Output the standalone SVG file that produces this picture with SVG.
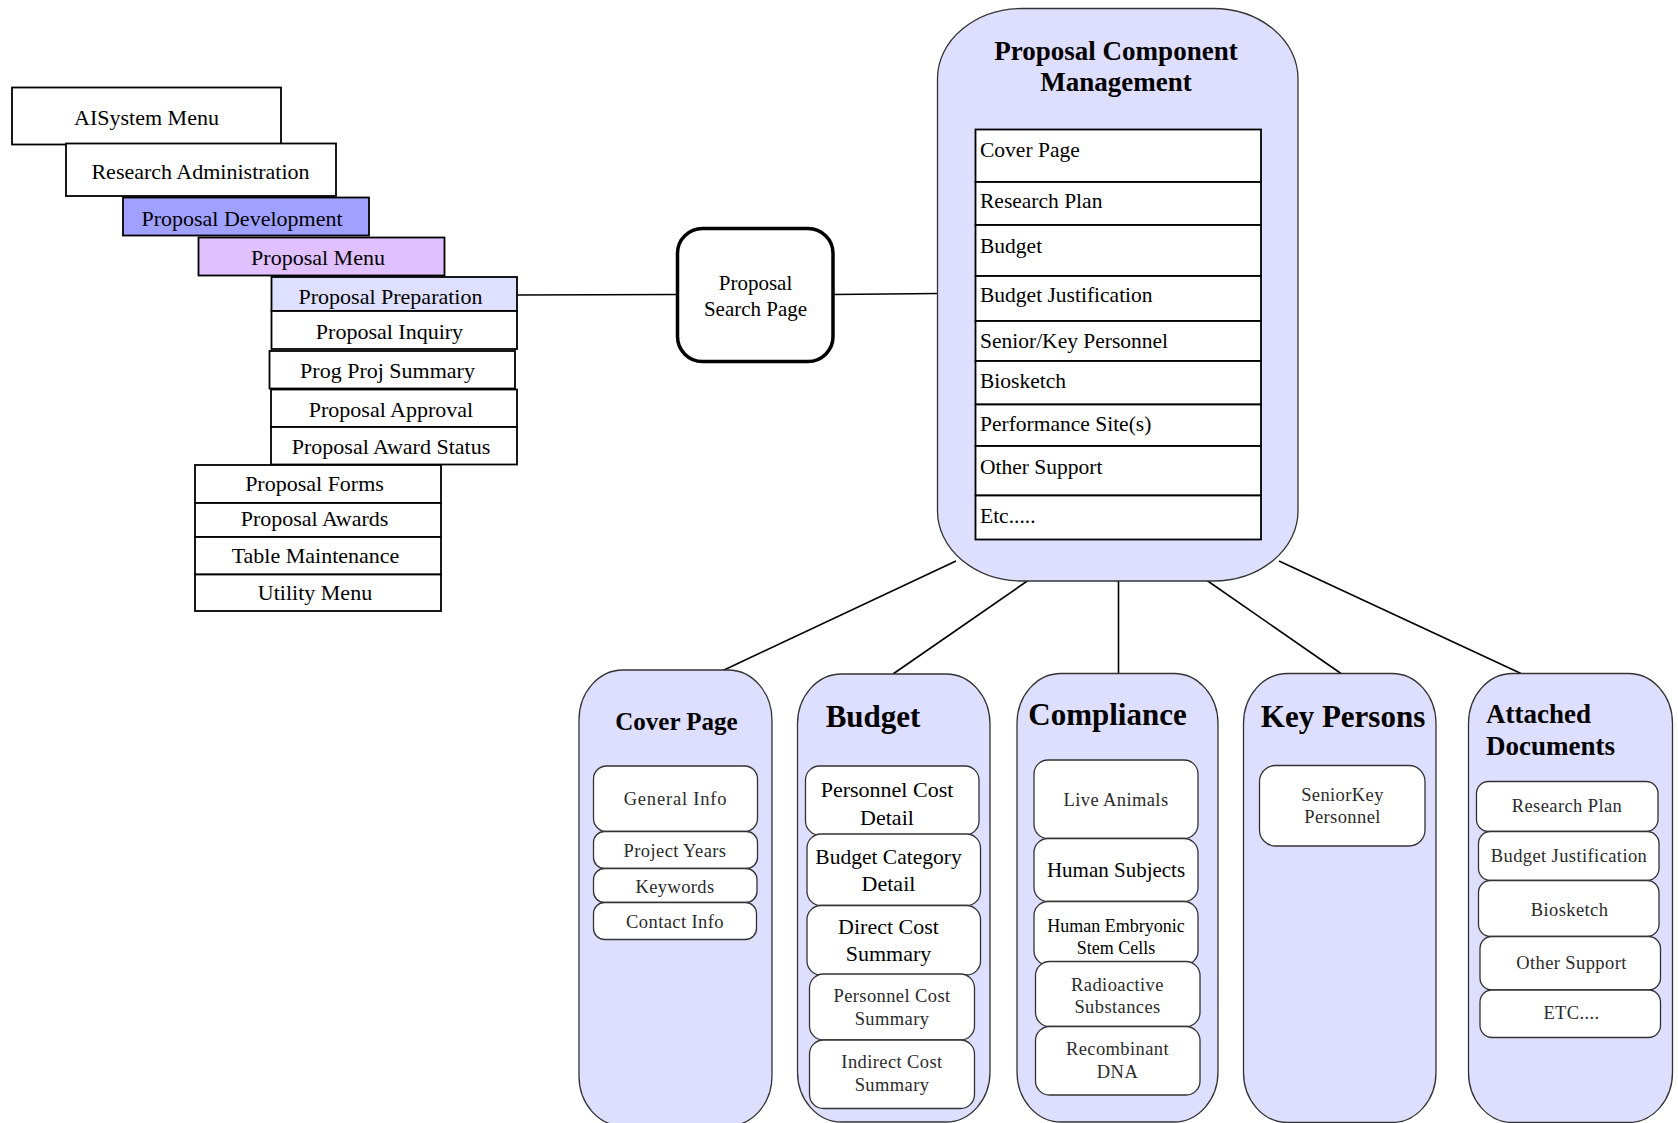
<svg xmlns="http://www.w3.org/2000/svg" width="1678" height="1123" viewBox="0 0 1678 1123">
  <style>
    .bg { fill: #ffffff; }
    .menu { fill: #ffffff; stroke: #000000; stroke-width: 1.8; }
    .dev { fill: #a0a0ff; }
    .pmenu { fill: #e0c0ff; }
    .prep { fill: #dfe0ff; }
    .t { font-family: "Liberation Serif", "Times New Roman", serif; font-size: 21px; fill: #000000; }
    .c { text-anchor: middle; }
    .b { font-weight: bold; }
    .f18 { font-size: 18px; }
    .f215 { font-size: 21.5px; }
    .f22 { font-size: 22px; }
    .f25 { font-size: 25px; }
    .f27 { font-size: 27px; }
    .f31 { font-size: 31px; }
    .g { font-family: "Liberation Serif", "Times New Roman", serif; font-size: 18.5px; fill: #2a2a2a; letter-spacing: 0.4px; text-anchor: middle; }
    .panel { fill: #dedeff; stroke: #333333; stroke-width: 1.3; }
    .item { fill: #ffffff; stroke: #333333; stroke-width: 1.3; }
    .cell { fill: #ffffff; stroke: #000000; stroke-width: 1.8; }
    .search { fill: #ffffff; stroke: #000000; stroke-width: 3.5; }
    .link { stroke: #000000; stroke-width: 1.6; fill: none; }
  </style>

  <rect class="bg" x="0" y="0" width="1678" height="1123"/>

  <!-- connectors -->
  <g id="connectors">
    <line class="link" x1="517" y1="295" x2="677" y2="294.5"/>
    <line class="link" x1="833" y1="294.5" x2="938" y2="293.5"/>
    <line class="link" x1="956" y1="561" x2="723" y2="670.5"/>
    <line class="link" x1="1028" y1="580.5" x2="893" y2="674"/>
    <line class="link" x1="1118.5" y1="580.5" x2="1118.5" y2="673.5"/>
    <line class="link" x1="1207" y1="580.5" x2="1341" y2="673.5"/>
    <line class="link" x1="1279" y1="561" x2="1521" y2="673.5"/>
  </g>

  <!-- navigation menu cascade -->
  <g id="menu-aisystem">
    <rect class="menu" x="12" y="87.5" width="269" height="57"/>
    <text class="t c f22" x="146.5" y="125">AISystem Menu</text>
  </g>
  <g id="menu-research-admin">
    <rect class="menu" x="66" y="143.5" width="270" height="52.5"/>
    <text class="t c f22" x="200.5" y="178.5">Research Administration</text>
  </g>
  <g id="menu-proposal-development">
    <rect class="menu dev" x="123" y="197.5" width="246" height="38"/>
    <text class="t c f22" x="242" y="226">Proposal Development</text>
  </g>
  <g id="menu-proposal-menu">
    <rect class="menu pmenu" x="198.5" y="237.5" width="246" height="38"/>
    <text class="t c f22" x="318" y="265">Proposal Menu</text>
  </g>
  <g id="menu-proposal-preparation">
    <rect class="menu prep" x="271.5" y="277" width="245.5" height="34"/>
    <text class="t c f22" x="390.5" y="304">Proposal Preparation</text>
  </g>
  <g id="menu-proposal-inquiry">
    <rect class="menu" x="271.5" y="311" width="245.5" height="38"/>
    <text class="t c f22" x="389.5" y="338.5">Proposal Inquiry</text>
  </g>
  <g id="menu-prog-proj-summary">
    <rect class="menu" x="269.5" y="351" width="245.5" height="37.5"/>
    <text class="t c f22" x="387.5" y="378">Prog Proj Summary</text>
  </g>
  <g id="menu-proposal-approval">
    <rect class="menu" x="271" y="389.5" width="246" height="37.5"/>
    <text class="t c f22" x="391" y="416.5">Proposal Approval</text>
  </g>
  <g id="menu-proposal-award-status">
    <rect class="menu" x="271" y="427" width="246" height="37.5"/>
    <text class="t c f22" x="391" y="454">Proposal Award Status</text>
  </g>
  <g id="menu-proposal-forms">
    <rect class="menu" x="195" y="465" width="246" height="38"/>
    <text class="t c f22" x="314.5" y="491">Proposal Forms</text>
  </g>
  <g id="menu-proposal-awards">
    <rect class="menu" x="195" y="503" width="246" height="34"/>
    <text class="t c f22" x="314.5" y="525.5">Proposal Awards</text>
  </g>
  <g id="menu-table-maintenance">
    <rect class="menu" x="195" y="537" width="246" height="37.5"/>
    <text class="t c f22" x="315.5" y="563">Table Maintenance</text>
  </g>
  <g id="menu-utility">
    <rect class="menu" x="195" y="574.5" width="246" height="36.5"/>
    <text class="t c f22" x="315" y="600">Utility Menu</text>
  </g>

  <!-- search page -->
  <g id="proposal-search-page">
    <rect class="search" x="677.5" y="228.5" width="155.5" height="133" rx="25" ry="25"/>
    <text class="t c" x="755.5" y="289.5">Proposal</text>
    <text class="t c" x="755.5" y="315.5">Search Page</text>
  </g>

  <!-- component management hub -->
  <g id="proposal-component-management">
    <rect class="panel" x="937.5" y="8.5" width="360.5" height="572.5" rx="85" ry="70"/>
    <text class="t c b f27" x="1116" y="60">Proposal Component</text>
    <text class="t c b f27" x="1116" y="91">Management</text>
    <rect class="cell" x="975.5" y="129.5" width="285.5" height="52.5"/>
    <rect class="cell" x="975.5" y="182" width="285.5" height="43"/>
    <rect class="cell" x="975.5" y="225" width="285.5" height="51"/>
    <rect class="cell" x="975.5" y="276" width="285.5" height="45"/>
    <rect class="cell" x="975.5" y="321" width="285.5" height="40"/>
    <rect class="cell" x="975.5" y="361" width="285.5" height="43.5"/>
    <rect class="cell" x="975.5" y="404.5" width="285.5" height="41.5"/>
    <rect class="cell" x="975.5" y="446" width="285.5" height="49.5"/>
    <rect class="cell" x="975.5" y="495.5" width="285.5" height="44"/>
    <text class="t f215" x="980" y="156.5">Cover Page</text>
    <text class="t f215" x="980" y="208">Research Plan</text>
    <text class="t f215" x="980" y="253">Budget</text>
    <text class="t f215" x="980" y="301.5">Budget Justification</text>
    <text class="t f215" x="980" y="348">Senior/Key Personnel</text>
    <text class="t f215" x="980" y="388">Biosketch</text>
    <text class="t f215" x="980" y="430.5">Performance Site(s)</text>
    <text class="t f215" x="980" y="474">Other Support</text>
    <text class="t f215" x="980" y="523">Etc.....</text>
  </g>

  <!-- cover page panel -->
  <g id="panel-cover-page">
    <rect class="panel" x="579" y="670" width="193" height="456" rx="44" ry="50"/>
    <text class="t c b f25" x="676.5" y="730">Cover Page</text>
    <rect class="item" x="593.5" y="766" width="164" height="65.5" rx="13" ry="13"/>
    <text class="g" x="675.5" y="805" style="letter-spacing:0.8px">General Info</text>
    <rect class="item" x="593.5" y="831.5" width="164" height="37" rx="11" ry="11"/>
    <text class="g" x="675" y="857">Project Years</text>
    <rect class="item" x="593.5" y="868.5" width="163.5" height="34" rx="11" ry="11"/>
    <text class="g" x="675" y="893">Keywords</text>
    <rect class="item" x="593.5" y="902.5" width="163" height="37" rx="11" ry="11"/>
    <text class="g" x="675" y="927.5">Contact Info</text>
  </g>

  <!-- budget panel -->
  <g id="panel-budget">
    <rect class="panel" x="797.5" y="674" width="192.5" height="448" rx="44" ry="50"/>
    <text class="t c b f31" x="873" y="726.5">Budget</text>
    <rect class="item" x="805.5" y="766" width="173.5" height="69" rx="14" ry="14"/>
    <text class="t c f22" x="887" y="796.5">Personnel Cost</text>
    <text class="t c f22" x="887" y="824.5">Detail</text>
    <rect class="item" x="807" y="834" width="173.5" height="71.5" rx="14" ry="14"/>
    <text class="t c f215" x="888.5" y="863.5">Budget Category</text>
    <text class="t c f22" x="888.5" y="891">Detail</text>
    <rect class="item" x="807" y="905.5" width="173.5" height="69.5" rx="14" ry="14"/>
    <text class="t c f22" x="888.5" y="933.5">Direct Cost</text>
    <text class="t c f22" x="888.5" y="961">Summary</text>
    <rect class="item" x="809.5" y="974" width="165" height="66" rx="14" ry="14"/>
    <text class="g" x="892" y="1002">Personnel Cost</text>
    <text class="g" x="892" y="1024.5">Summary</text>
    <rect class="item" x="809.5" y="1040" width="165" height="68.5" rx="14" ry="14"/>
    <text class="g" x="892" y="1068">Indirect Cost</text>
    <text class="g" x="892" y="1090.5">Summary</text>
  </g>

  <!-- compliance panel -->
  <g id="panel-compliance">
    <rect class="panel" x="1017" y="673.5" width="201" height="448.5" rx="44" ry="50"/>
    <text class="t c b f31" x="1107.5" y="725">Compliance</text>
    <rect class="item" x="1034" y="760" width="164" height="78.5" rx="14" ry="14"/>
    <text class="g" x="1116" y="805.5">Live Animals</text>
    <rect class="item" x="1034" y="838.5" width="164" height="63" rx="14" ry="14"/>
    <text class="t c" x="1116" y="876.5">Human Subjects</text>
    <rect class="item" x="1034" y="901.5" width="164" height="63.5" rx="14" ry="14"/>
    <text class="t c f18" x="1116" y="931.5">Human Embryonic</text>
    <text class="t c f18" x="1116" y="954">Stem Cells</text>
    <rect class="item" x="1035.5" y="961.5" width="164.5" height="65" rx="14" ry="14"/>
    <text class="g" x="1117.5" y="991">Radioactive</text>
    <text class="g" x="1117.5" y="1012.5">Substances</text>
    <rect class="item" x="1035.5" y="1026.5" width="164.5" height="68.5" rx="14" ry="14"/>
    <text class="g" x="1117.5" y="1055">Recombinant</text>
    <text class="g" x="1117.5" y="1077.5">DNA</text>
  </g>

  <!-- key persons panel -->
  <g id="panel-key-persons">
    <rect class="panel" x="1243.5" y="673.5" width="192.5" height="449" rx="44" ry="50"/>
    <text class="t c b f31" x="1343" y="726.5">Key Persons</text>
    <rect class="item" x="1259.5" y="765.5" width="165.5" height="80.5" rx="16" ry="16"/>
    <text class="g" x="1342.5" y="800.5">SeniorKey</text>
    <text class="g" x="1342.5" y="822.5">Personnel</text>
  </g>

  <!-- attached documents panel -->
  <g id="panel-attached-documents">
    <rect class="panel" x="1468.5" y="673.5" width="204" height="449" rx="44" ry="50"/>
    <text class="t b f27" x="1486" y="723">Attached</text>
    <text class="t b f27" x="1486" y="755">Documents</text>
    <rect class="item" x="1476.5" y="781.5" width="181.5" height="50" rx="12" ry="12"/>
    <text class="g" x="1567" y="811.5">Research Plan</text>
    <rect class="item" x="1478.5" y="831.5" width="180.5" height="49" rx="12" ry="12"/>
    <text class="g" x="1569" y="861.5">Budget Justification</text>
    <rect class="item" x="1478.5" y="880.5" width="180.5" height="56" rx="12" ry="12"/>
    <text class="g" x="1569.5" y="916">Biosketch</text>
    <rect class="item" x="1480" y="936.5" width="180.5" height="53.5" rx="12" ry="12"/>
    <text class="g" x="1571.5" y="969">Other Support</text>
    <rect class="item" x="1480" y="990" width="180.5" height="47.5" rx="12" ry="12"/>
    <text class="g" x="1571.5" y="1019">ETC....</text>
  </g>
</svg>
